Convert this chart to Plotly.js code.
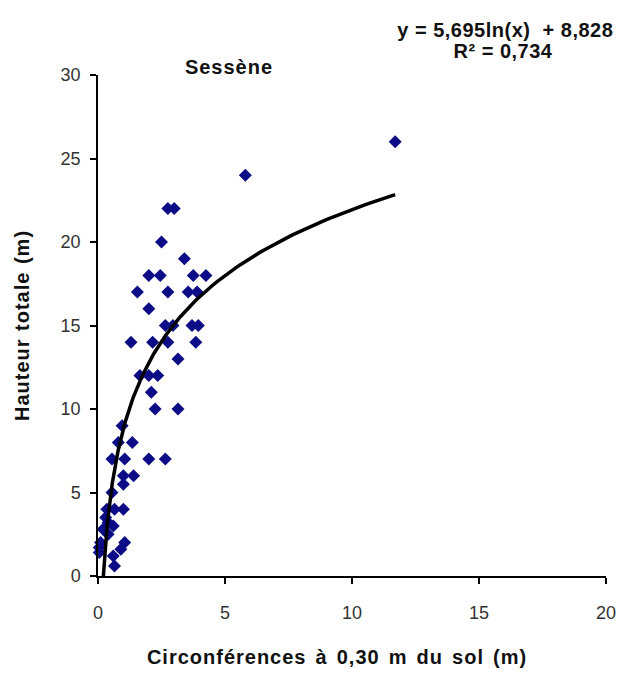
<!DOCTYPE html>
<html>
<head>
<meta charset="utf-8">
<script src="https://cdn.plot.ly/plotly-3.0.1.min.js"></script>
<style>
html,body{margin:0;padding:0;background:#fff;}
#chart{width:629px;height:675px;}
#chart .xtitle{letter-spacing:1px;word-spacing:2.5px;transform:translateX(-15px);}
#chart .ytitle{letter-spacing:1px;word-spacing:1px;}
#chart .gtitle{letter-spacing:1px;}
#chart .annotation-text{letter-spacing:0.5px;}
</style>
</head>
<body>
<div id="chart"></div>
<script>
// Observed data: circumference at 0.30 m (m) and total height (m)
const circumference = [
  11.7, 5.8, 2.75, 3.0, 2.5, 3.4,
  2.0, 2.45, 3.75, 4.25,
  1.55, 2.75, 3.55, 3.9,
  2.0,
  2.65, 2.95, 3.7, 3.95,
  1.3, 2.15, 2.75, 3.85,
  3.15,
  1.65, 2.0, 2.35,
  2.1,
  2.25, 3.15,
  0.95,
  0.8, 1.35,
  0.55, 1.05, 2.0, 2.65,
  1.0, 1.4,
  1.0,
  0.55,
  0.35, 0.65, 1.0,
  0.3,
  0.4, 0.6,
  0.2, 0.4,
  1.05, 0.1,
  0.05, 0.9,
  0.05,
  0.6,
  0.65
];
const height = [
  26, 24, 22, 22, 20, 19,
  18, 18, 18, 18,
  17, 17, 17, 17,
  16,
  15, 15, 15, 15,
  14, 14, 14, 14,
  13,
  12, 12, 12,
  11,
  10, 10,
  9,
  8, 8,
  7, 7, 7, 7,
  6, 6,
  5.5,
  5,
  4, 4, 4,
  3.5,
  3.2, 3,
  2.8, 2.5,
  2, 2,
  1.7, 1.6,
  1.4,
  1.2,
  0.6
];
// Logarithmic trendline shown on the chart: y = a ln(x) + b
const trendA = 5.695;
const trendB = 8.828;
const trendRange = [0.212, 11.7];
const xTicks = [0, 5, 10, 15, 20];
const yTicks = [0, 5, 10, 15, 20, 25, 30];
const equationText = 'y = 5,695ln(x)  + 8,828';
const r2Text = 'R² = 0,734';

const trendX = [], trendY = [];
const n = 200;
for (let i = 0; i <= n; i++) {
  const lx = Math.log(trendRange[0]) + (Math.log(trendRange[1]) - Math.log(trendRange[0])) * i / n;
  const x = Math.exp(lx);
  trendX.push(x);
  trendY.push(trendA * Math.log(x) + trendB);
}

const data = [
  {
    x: circumference, y: height, type: 'scatter', mode: 'markers',
    marker: {symbol: 'diamond', size: 10, color: '#0c0c86'},
    hoverinfo: 'x+y', cliponaxis: false
  },
  {
    x: trendX, y: trendY, type: 'scatter', mode: 'lines',
    line: {color: '#000000', width: 3.5}, hoverinfo: 'skip'
  }
];

const tickFont = {family: '"Liberation Sans Narrow", "Liberation Sans", Arial, sans-serif', size: 18, color: '#333333'};
const boldFont = {family: '"Liberation Sans", Arial, sans-serif', size: 20, color: '#111111', weight: 'bold'};
const eqFont = {family: '"Liberation Sans", Arial, sans-serif', size: 20, color: '#111111', weight: 'bold'};

const layout = {
  width: 629, height: 675,
  margin: {l: 98, r: 23, t: 75, b: 99, pad: 0},
  paper_bgcolor: '#ffffff', plot_bgcolor: '#ffffff',
  showlegend: false,
  title: {
    text: 'Sessène', font: boldFont,
    x: 229 / 629, xanchor: 'center', xref: 'container',
    y: 1 - 67 / 675, yanchor: 'middle', yref: 'container'
  },
  xaxis: {
    range: [0, 20], tickvals: xTicks, ticktext: xTicks.map(String),
    showgrid: false, zeroline: false, showline: true, linecolor: '#000', linewidth: 1.5,
    ticks: 'outside', ticklen: 6, tickcolor: '#000', tickwidth: 1.5,
    tickfont: tickFont, ticklabelstandoff: 14,
    title: {text: 'Circonférences à 0,30 m du sol (m)', font: boldFont, standoff: 28},
    fixedrange: true
  },
  yaxis: {
    range: [0, 30], tickvals: yTicks, ticktext: yTicks.map(String),
    showgrid: false, zeroline: false, showline: true, linecolor: '#000', linewidth: 1.5,
    ticks: 'outside', ticklen: 6, tickcolor: '#000', tickwidth: 1.5,
    tickfont: tickFont, ticklabelstandoff: 6,
    title: {text: 'Hauteur totale (m)', font: boldFont, standoff: 26},
    fixedrange: true
  },
  annotations: [
    {
      text: equationText,
      xref: 'paper', yref: 'paper', x: (505 - 98) / 508, y: (576 - 30) / 501,
      xanchor: 'center', yanchor: 'middle', align: 'center', showarrow: false,
      font: eqFont
    },
    {
      text: r2Text,
      xref: 'paper', yref: 'paper', x: (503 - 98) / 508, y: (576 - 51) / 501,
      xanchor: 'center', yanchor: 'middle', align: 'center', showarrow: false,
      font: eqFont
    }
  ]
};

Plotly.newPlot('chart', data, layout, {displayModeBar: false, responsive: false});
</script>
</body>
</html>
